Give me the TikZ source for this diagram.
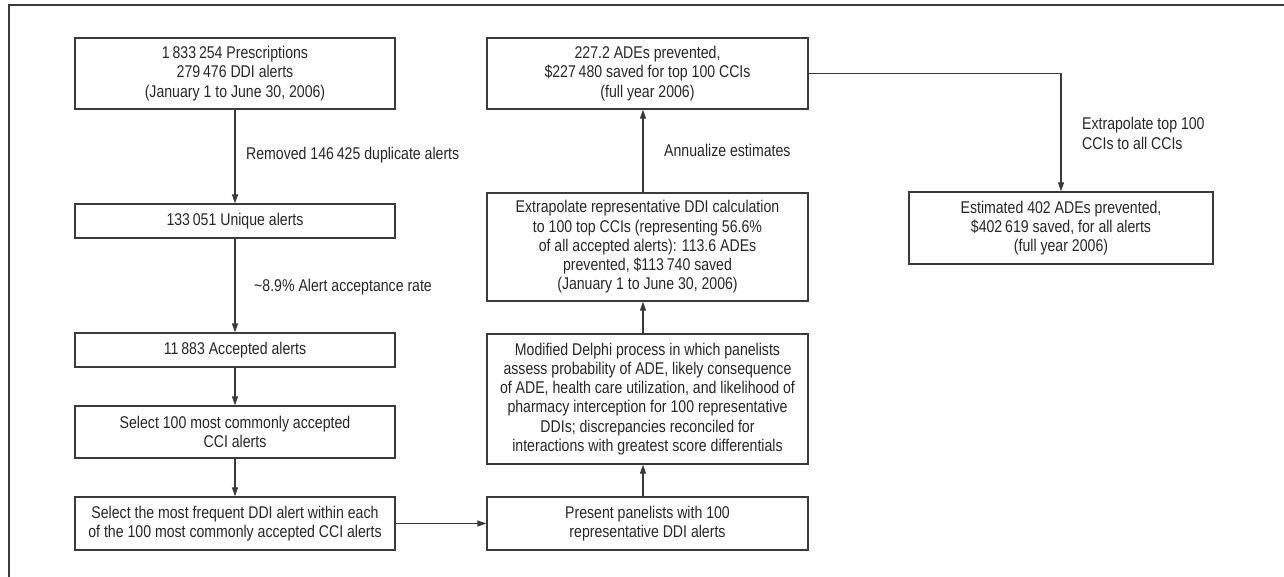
\documentclass[tikz,border=0pt]{standalone}
\usepackage{fontspec}
\setmainfont{Liberation Sans}[FakeStretch=0.83]
\usetikzlibrary{arrows.meta}
\definecolor{ink}{HTML}{262626}
\definecolor{frame}{HTML}{3A3A3A}
\tikzset{
  box/.style={draw=frame, line width=1.2pt, rectangle, align=center, inner sep=0pt, text=ink},
  lab/.style={text=ink, inner sep=0pt, align=left},
  arr/.style={draw=frame, line width=1.1pt, -{Triangle[length=9pt,width=6pt]}},
}
\begin{document}
\begin{tikzpicture}[x=1pt,y=-1pt, font=\fontsize{17}{19.2}\selectfont]
\useasboundingbox (0,0) rectangle (1284,577);
\draw[frame, line width=1.3pt] (9,577) -- (9,5) -- (1284,5);
% left column
\node[box, minimum width=320pt, minimum height=71pt] (b1) at (235,73.5) {1\,833\,254 Prescriptions\\279\,476 DDI alerts\\(January 1 to June 30, 2006)};
\node[box, minimum width=320pt, minimum height=34pt] (b2) at (235,221) {133\,051 Unique alerts};
\node[box, minimum width=320pt, minimum height=34pt] (b3) at (235,350) {11\,883 Accepted alerts};
\node[box, minimum width=320pt, minimum height=52pt] (b4) at (235,432) {Select 100 most commonly accepted\\CCI alerts};
\node[box, minimum width=320pt, minimum height=53pt] (b5) at (235,523.5) {Select the most frequent DDI alert within each\\of the 100 most commonly accepted CCI alerts};
% middle column
\node[box, minimum width=321pt, minimum height=53pt] (b6) at (647.5,523.5) {Present panelists with 100\\representative DDI alerts};
\node[box, minimum width=321pt, minimum height=130pt] (b7) at (647.5,399) {Modified Delphi process in which panelists\\assess probability of ADE, likely consequence\\of ADE, health care utilization, and likelihood of\\pharmacy interception for 100 representative\\DDIs; discrepancies reconciled for\\interactions with greatest score differentials};
\node[box, minimum width=321pt, minimum height=108pt] (b8) at (647.5,247) {Extrapolate representative DDI calculation\\to 100 top CCIs (representing 56.6\%\\of all accepted alerts): 113.6 ADEs\\prevented, \$113\,740 saved\\(January 1 to June 30, 2006)};
\node[box, minimum width=321pt, minimum height=71pt] (b9) at (647.5,73.5) {227.2 ADEs prevented,\\\$227\,480 saved for top 100 CCIs\\(full year 2006)};
% right column
\node[box, minimum width=304pt, minimum height=72pt] (b10) at (1061,228) {Estimated 402 ADEs prevented,\\\$402\,619 saved, for all alerts\\(full year 2006)};
% labels
\node[lab, anchor=west] (l1) at (246,155) {Removed 146\,425 duplicate alerts};
\node[lab, anchor=west] (l2) at (254,287) {\textasciitilde8.9\% Alert acceptance rate};
\node[lab, anchor=west] (l3) at (664,150) {Annualize estimates};
\node[lab, anchor=west] (l4) at (1082,133.5) {Extrapolate top 100\\CCIs to all CCIs};
% connectors
\draw[arr] (b1.south) -- (b2.north);
\draw[arr] (b2.south) -- (b3.north);
\draw[arr] (b3.south) -- (b4.north);
\draw[arr] (b4.south) -- (b5.north);
\draw[arr] (b5.east) -- (b6.west);
\draw[arr] ([xshift=-4.5pt]b6.north) -- ([xshift=-4.5pt]b7.south);
\draw[arr] ([xshift=-4.5pt]b7.north) -- ([xshift=-4.5pt]b8.south);
\draw[arr] ([xshift=-4.5pt]b8.north) -- ([xshift=-4.5pt]b9.south);
\draw[arr] (b9.east) -| (b10.north);
\end{tikzpicture}
\end{document}
